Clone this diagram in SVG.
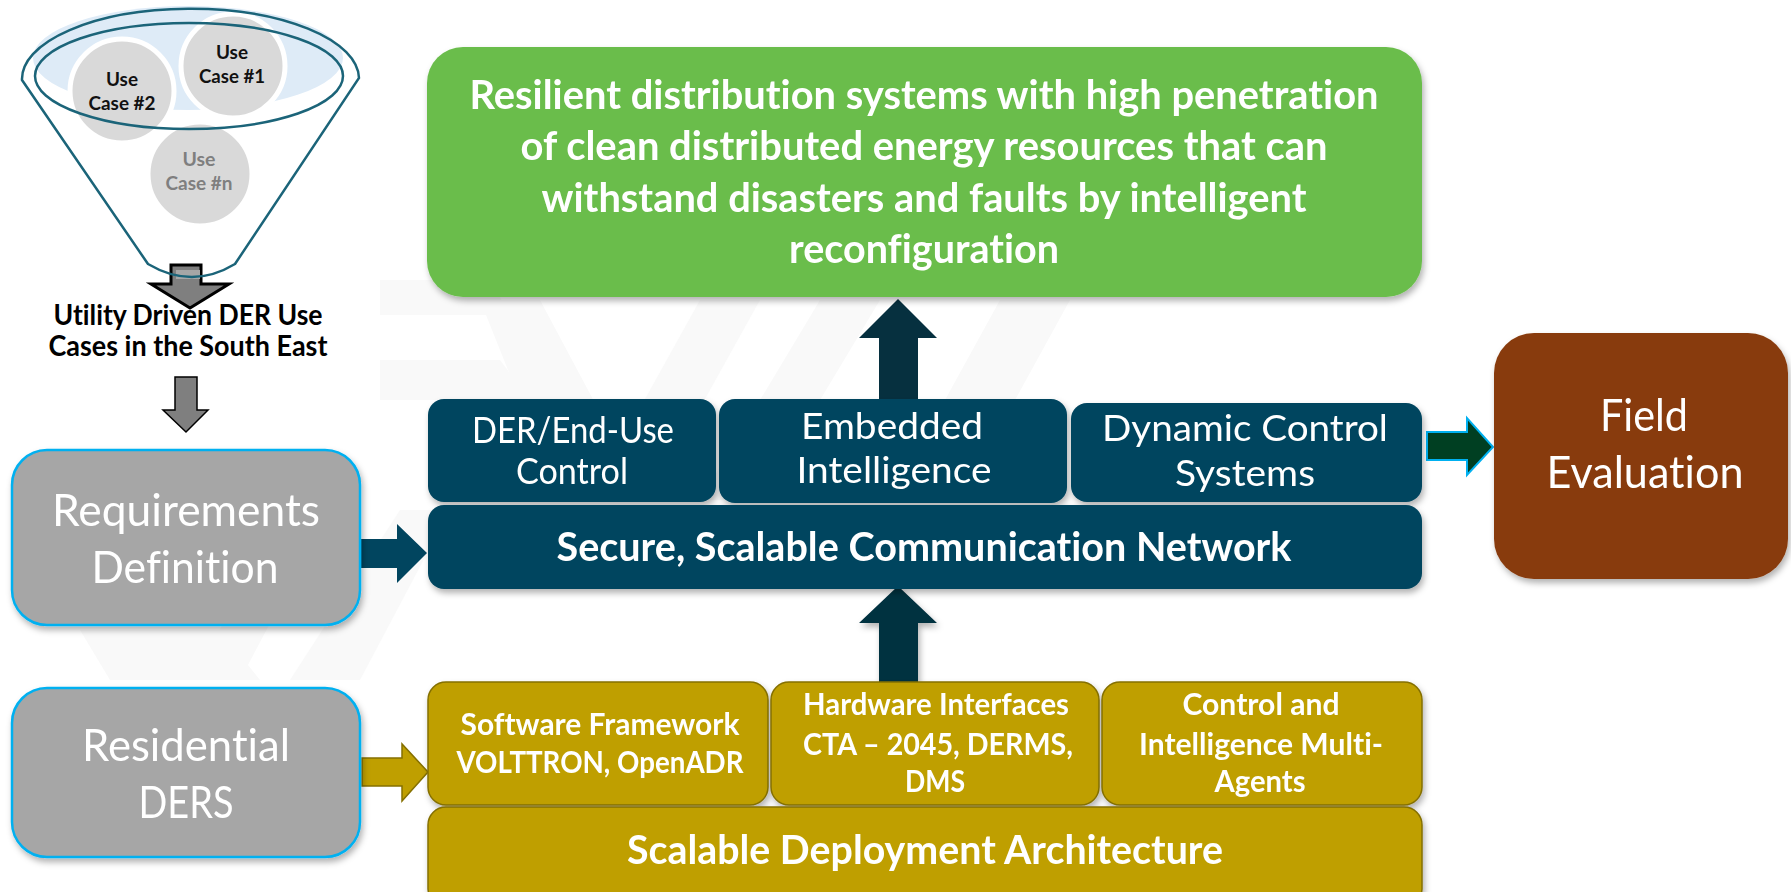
<svg xmlns="http://www.w3.org/2000/svg" width="1791" height="892" viewBox="0 0 1791 892">
<defs>
<filter id="sh" x="-10%" y="-10%" width="120%" height="130%">
<feDropShadow dx="2" dy="4" stdDeviation="3" flood-color="#000" flood-opacity="0.3"/>
</filter>
<style>
text{font-variant-ligatures:none}
.t{font-family:Lato,"Liberation Sans",sans-serif;fill:#fff;text-anchor:middle}
.b{font-weight:bold}
.navy{fill:#01455f}
.gold{fill:#bf9f00;stroke:#857000;stroke-width:1.5}
.grey{fill:#a6a6a6;stroke:#00b0f0;stroke-width:2.5}
.darr{fill:#06303f}
.fun{fill:none;stroke:#1b6479;stroke-width:2.5}
.uc{fill:#d9d9d9;stroke:#fff;stroke-width:5}
.uct{font-family:Lato,"Liberation Sans",sans-serif;font-weight:bold;font-size:19px;text-anchor:middle;fill:#111}
.wm{fill:#f9f9f9}
</style>
</defs>
<rect width="1791" height="892" fill="#fff"/>
<g id="watermark">
<polygon class="wm" points="380,280 490,280 510,315 380,315"/>
<polygon class="wm" points="380,360 500,360 530,400 380,400"/>
<polygon class="wm" points="480,300 540,300 620,450 600,500 560,500"/>
<polygon class="wm" points="700,300 760,300 660,480 600,480"/>
<polygon class="wm" points="820,300 880,300 760,500 700,500"/>
<polygon class="wm" points="1000,300 1070,300 960,500 890,500"/>
<polygon class="wm" points="80,630 220,630 260,680 110,680"/>
<polygon class="wm" points="240,680 190,680 290,510 330,510"/>
<polygon class="wm" points="290,680 360,680 450,510 400,510"/>
</g>
<g id="connectors">
<polygon id="arr-top" class="darr" points="898,299 937,338 918,338 918,399 879,399 879,338 859,338"/>
<polygon id="arr-mid" class="darr" points="898,586 937,623 918,623 918,682 879,682 879,623 859,623" filter="url(#sh)"/>
<polygon id="arr-req" class="navy" points="358,539 397,539 397,524 427,553 397,583 397,568 358,568"/>
<polygon id="arr-res" class="gold" stroke-width="2" points="362,758 402,758 402,744 428,772 402,801 402,786 362,786"/>
<polygon id="arr-field" fill="#003f22" stroke="#00b0f0" stroke-width="2" points="1427,432 1467,432 1467,418 1493,447 1467,475 1467,460 1427,460"/>
<polygon id="arr-grey2" fill="#7f7f7f" stroke="#000" stroke-width="1.5" points="175,377 197,377 197,410 208,410 186,432 163,410 175,410"/>
</g>
<g id="funnel">
<ellipse cx="188" cy="58" rx="155" ry="52" fill="#deebf7"/>
<circle id="uc2" class="uc" cx="122" cy="91" r="52"/>
<circle id="uc1" class="uc" cx="233" cy="66" r="52"/>
<circle id="ucn" class="uc" cx="200" cy="174" r="52" fill="#e0e0e0"/>
<text class="uct" x="122" y="86" textLength="32" lengthAdjust="spacingAndGlyphs">Use</text>
<text class="uct" x="122" y="110" textLength="67" lengthAdjust="spacingAndGlyphs">Case #2</text>
<text class="uct" x="232" y="59" textLength="32" lengthAdjust="spacingAndGlyphs">Use</text>
<text class="uct" x="232" y="83" textLength="66" lengthAdjust="spacingAndGlyphs">Case #1</text>
<text class="uct" x="199" y="166" textLength="33" lengthAdjust="spacingAndGlyphs" style="fill:#7f7f7f">Use</text>
<text class="uct" x="199" y="190" textLength="67" lengthAdjust="spacingAndGlyphs" style="fill:#7f7f7f">Case #n</text>
<g id="arr-grey1">
<polygon fill="#7f7f7f" stroke="#000" stroke-width="3" points="171,265 201,265 201,284 229,284 190,308 151,284 171,284"/>
<rect x="176" y="270" width="24" height="9" fill="#a6a6a6"/>
</g>
<path class="fun" d="M22,80 A168,70 0 0 1 359,78 L235,264 Q192,290 148,264 Z"/>
<ellipse class="fun" cx="189" cy="76" rx="154" ry="53"/>
<text class="t b" x="188" y="325" font-size="28" style="fill:#000" textLength="269" lengthAdjust="spacingAndGlyphs">Utility Driven DER Use</text>
<text class="t b" x="188" y="356" font-size="28" style="fill:#000" textLength="279" lengthAdjust="spacingAndGlyphs">Cases in the South East</text>
</g>
<g id="goal" filter="url(#sh)">
<rect x="427" y="47" width="995" height="250" rx="36" fill="#6abd4b"/>
<text class="t b" font-size="40" x="924" y="109" textLength="909" lengthAdjust="spacingAndGlyphs">Resilient distribution systems with high penetration</text>
<text class="t b" font-size="40" x="924" y="160" textLength="807" lengthAdjust="spacingAndGlyphs">of clean distributed energy resources that can</text>
<text class="t b" font-size="40" x="924" y="212" textLength="765" lengthAdjust="spacingAndGlyphs">withstand disasters and faults by intelligent</text>
<text class="t b" font-size="40" x="924" y="263" textLength="270" lengthAdjust="spacingAndGlyphs">reconfiguration</text>
</g>
<g id="der-control" filter="url(#sh)">
<rect class="navy" x="428" y="399" width="288" height="103" rx="16"/>
<text class="t" font-size="36" x="573" y="443" textLength="202" lengthAdjust="spacingAndGlyphs">DER/End-Use</text>
<text class="t" font-size="36" x="572" y="484" textLength="112" lengthAdjust="spacingAndGlyphs">Control</text>
</g>
<g id="embedded" filter="url(#sh)">
<rect class="navy" x="719" y="399" width="348" height="104" rx="16"/>
<text class="t" font-size="36" x="892" y="439" textLength="182" lengthAdjust="spacingAndGlyphs">Embedded</text>
<text class="t" font-size="36" x="894" y="483" textLength="195" lengthAdjust="spacingAndGlyphs">Intelligence</text>
</g>
<g id="dynamic" filter="url(#sh)">
<rect class="navy" x="1071" y="403" width="351" height="99" rx="16"/>
<text class="t" font-size="36" x="1245" y="441" textLength="286" lengthAdjust="spacingAndGlyphs">Dynamic Control</text>
<text class="t" font-size="36" x="1245" y="486" textLength="140" lengthAdjust="spacingAndGlyphs">Systems</text>
</g>
<g id="network" filter="url(#sh)">
<rect class="navy" x="428" y="505" width="994" height="84" rx="16"/>
<text class="t b" font-size="40" x="924" y="561" textLength="735" lengthAdjust="spacingAndGlyphs">Secure, Scalable Communication Network</text>
</g>
<g id="software" filter="url(#sh)">
<rect class="gold" x="428" y="682" width="340" height="123" rx="18"/>
<text class="t b" font-size="30" x="600" y="735" textLength="279" lengthAdjust="spacingAndGlyphs">Software Framework</text>
<text class="t b" font-size="30" x="600" y="773" textLength="287" lengthAdjust="spacingAndGlyphs">VOLTTRON, OpenADR</text>
</g>
<g id="hardware" filter="url(#sh)">
<rect class="gold" x="771" y="682" width="328" height="123" rx="18"/>
<text class="t b" font-size="30" x="936" y="715" textLength="266" lengthAdjust="spacingAndGlyphs">Hardware Interfaces</text>
<text class="t b" font-size="30" x="938" y="755" textLength="270" lengthAdjust="spacingAndGlyphs">CTA – 2045, DERMS,</text>
<text class="t b" font-size="30" x="935" y="792" textLength="60" lengthAdjust="spacingAndGlyphs">DMS</text>
</g>
<g id="agents" filter="url(#sh)">
<rect class="gold" x="1102" y="682" width="320" height="123" rx="18"/>
<text class="t b" font-size="30" x="1261" y="715" textLength="157" lengthAdjust="spacingAndGlyphs">Control and</text>
<text class="t b" font-size="30" x="1261" y="755" textLength="244" lengthAdjust="spacingAndGlyphs">Intelligence Multi-</text>
<text class="t b" font-size="30" x="1260" y="792" textLength="91" lengthAdjust="spacingAndGlyphs">Agents</text>
</g>
<g id="deployment" filter="url(#sh)">
<rect class="gold" x="428" y="807" width="994" height="100" rx="18"/>
<text class="t b" font-size="40" x="925" y="864" textLength="596" lengthAdjust="spacingAndGlyphs">Scalable Deployment Architecture</text>
</g>
<g id="requirements" filter="url(#sh)">
<rect class="grey" x="12" y="450" width="348" height="175" rx="35"/>
<text class="t" font-size="45" x="186" y="526" textLength="268" lengthAdjust="spacingAndGlyphs">Requirements</text>
<text class="t" font-size="45" x="185" y="583" textLength="187" lengthAdjust="spacingAndGlyphs">Definition</text>
</g>
<g id="residential" filter="url(#sh)">
<rect class="grey" x="12" y="688" width="348" height="169" rx="35"/>
<text class="t" font-size="45" x="186" y="761" textLength="208" lengthAdjust="spacingAndGlyphs">Residential</text>
<text class="t" font-size="45" x="186" y="818" textLength="95" lengthAdjust="spacingAndGlyphs">DERS</text>
</g>
<g id="field" filter="url(#sh)">
<rect x="1494" y="333" width="294" height="246" rx="40" fill="#883b0b"/>
<text class="t" font-size="44" x="1644" y="431" textLength="88" lengthAdjust="spacingAndGlyphs">Field</text>
<text class="t" font-size="44" x="1645" y="488" textLength="197" lengthAdjust="spacingAndGlyphs">Evaluation</text>
</g>
</svg>
